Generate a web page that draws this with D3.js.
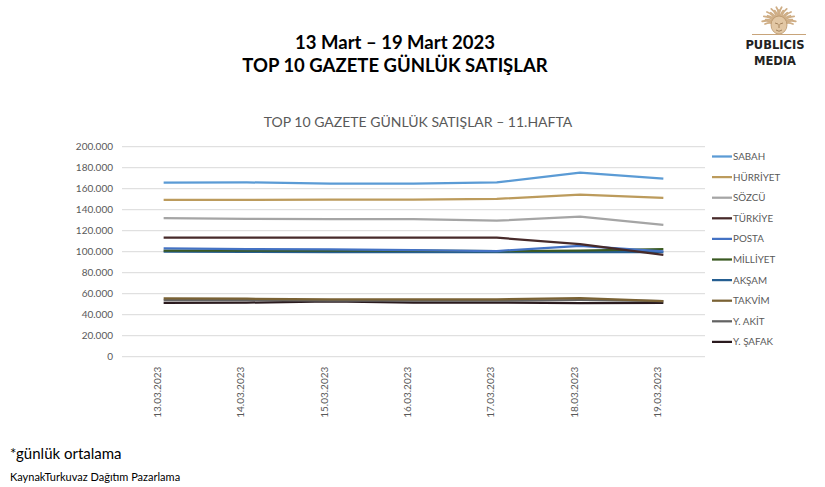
<!DOCTYPE html>
<html><head><meta charset="utf-8">
<script src="https://cdn.jsdelivr.net/npm/d3@7"></script>
<style>body{margin:0;background:#fff}svg{display:block}</style>
</head><body>
<script>
const dates = ["13.03.2023","14.03.2023","15.03.2023","16.03.2023","17.03.2023","18.03.2023","19.03.2023"];
const yTicks = [0,20000,40000,60000,80000,100000,120000,140000,160000,180000,200000];
const seriesNames = ["SABAH","HÜRRİYET","SÖZCÜ","TÜRKİYE","POSTA","MİLLİYET","AKŞAM","TAKVİM","Y. AKİT","Y. ŞAFAK"];
const seriesColors = ["#5B9BD5","#BC9B5C","#A5A5A5","#472A2A","#4472C4","#3B5A22","#255E91","#7A6234","#636363","#2A1A1E"];
const sabah    = [165700,166000,164900,164800,166000,175200,169500];
const hurriyet = [149300,149400,149500,149500,150300,154300,151200];
const sozcu    = [132000,131200,131100,131000,129500,133300,125500];
const turkiye  = [113300,113300,113300,113300,113300,107300,97000];
const posta    = [103200,102500,102200,101400,100600,105600,100200];
const milliyet = [101000,101000,101000,101000,100600,101000,102500];
const aksam    = [100000,99800,99700,99600,99600,99600,99600];
const takvim   = [55600,55200,54600,54500,54600,55800,53000];
const yakit    = [54000,53900,53500,53400,53400,54000,53000];
const ysafak   = [51200,51500,52700,51600,51500,51100,51300];
const seriesValues = [sabah,hurriyet,sozcu,turkiye,posta,milliyet,aksam,takvim,yakit,ysafak];

const W=825,H=487;
const svg=d3.select("body").append("svg").attr("width",W).attr("height",H);
const font="Lato, 'Open Sans', sans-serif";

// Titles
svg.append("text").attr("x",395).attr("y",49).attr("text-anchor","middle")
  .attr("font-family",font).attr("font-weight","bold").attr("font-size",18.5).attr("fill","#000")
  .text("13 Mart – 19 Mart 2023");
svg.append("text").attr("x",395).attr("y",72).attr("text-anchor","middle")
  .attr("font-family",font).attr("font-weight","bold").attr("font-size",18.5).attr("fill","#000")
  .text("TOP 10 GAZETE GÜNLÜK SATIŞLAR");
svg.append("text").attr("x",418).attr("y",127).attr("text-anchor","middle")
  .attr("font-family",font).attr("font-size",14).attr("fill","#595959")
  .text("TOP 10 GAZETE GÜNLÜK SATIŞLAR – 11.HAFTA");

// Scales
const x=d3.scaleBand().domain(dates).range([122,705]);
const y=d3.scaleLinear().domain([0,200000]).range([356.7,146.7]);
const fmt=v=>d3.format(",")(v).replace(/,/g,".");

// grid
svg.append("g").selectAll("line").data(yTicks).join("line")
  .attr("x1",122).attr("x2",705).attr("y1",d=>y(d)).attr("y2",d=>y(d))
  .attr("stroke","#D9D9D9").attr("stroke-width",1);

const yAxis=svg.append("g").attr("transform","translate(122,0)")
  .call(d3.axisLeft(y).tickValues(yTicks).tickFormat(fmt).tickSize(0).tickPadding(9));
yAxis.select(".domain").remove();
yAxis.selectAll("text").attr("font-family",font).attr("font-size",10).attr("fill","#595959");

const xAxis=svg.append("g").attr("transform","translate(0,356.7)")
  .call(d3.axisBottom(x).tickSize(0));
xAxis.select(".domain").remove();
xAxis.selectAll("text").attr("font-family",font).attr("font-size",10).attr("fill","#595959")
  .attr("transform","rotate(-90)").attr("text-anchor","end").attr("x",-10).attr("y",0).attr("dy","-0.25em");

// lines
const line=d3.line().x((d,i)=>x(dates[i])+x.bandwidth()/2).y(d=>y(d));
const order=[9,8,7,6,5,4,3,2,1,0];
order.forEach(k=>{
  svg.append("path").datum(seriesValues[k]).attr("d",line)
    .attr("fill","none").attr("stroke",seriesColors[k]).attr("stroke-width",2.25)
    .attr("stroke-linejoin","round");
});

// legend
const lg=svg.append("g");
seriesNames.forEach((n,i)=>{
  const yy=156.5+i*20.6;
  lg.append("line").attr("x1",712).attr("x2",732).attr("y1",yy).attr("y2",yy)
    .attr("stroke",seriesColors[i]).attr("stroke-width",2.25);
  lg.append("text").attr("x",733).attr("y",yy+3.5).attr("font-family",font).attr("font-size",9.8)
    .attr("fill","#595959").text(n);
});

// logo
const logo=svg.append("g").attr("transform","translate(779,24)");
for(let a=-180;a<=0;a+=9){
  const r=a*Math.PI/180;
  const len=(Math.round(a/9)%2?17:14);
  const bend=(a<-90?0.25:-0.25);
  logo.append("path")
    .attr("d",`M${Math.cos(r)*6},${Math.sin(r)*6} Q${Math.cos(r+bend)*len*0.65},${Math.sin(r+bend)*len*0.65} ${Math.cos(r)*len},${Math.sin(r)*len}`)
    .attr("fill","none").attr("stroke","#CFAE86").attr("stroke-width",1.8).attr("stroke-linecap","round");
}
logo.append("ellipse").attr("cx",0).attr("cy",1).attr("rx",8).attr("ry",9).attr("fill","#E2C7A4").attr("stroke","#B8946A").attr("stroke-width",0.8);
logo.append("path").attr("d","M-4,-1 L-1,0 M4,-1 L1,0 M0,0 L0,4 M-3,6 Q0,8.5 3,6").attr("stroke","#9C7A54").attr("fill","none").attr("stroke-width",0.9);
logo.append("line").attr("x1",-27).attr("x2",27).attr("y1",10.5).attr("y2",10.5).attr("stroke","#C8A47A").attr("stroke-width",1);
svg.append("text").attr("x",775).attr("y",49).attr("text-anchor","middle").attr("font-family","'DejaVu Sans', sans-serif")
  .attr("font-weight","bold").attr("font-size",11.5).attr("fill","#222").text("PUBLICIS");
svg.append("text").attr("x",775).attr("y",65).attr("text-anchor","middle").attr("font-family","'DejaVu Sans', sans-serif")
  .attr("font-weight","bold").attr("font-size",11.5).attr("fill","#222").text("MEDIA");

// footnotes
svg.append("text").attr("x",10).attr("y",459).attr("font-family",font).attr("font-size",15).attr("fill","#000").text("*günlük ortalama");
svg.append("text").attr("x",10).attr("y",481).attr("font-family",font).attr("font-size",11).attr("fill","#000").text("KaynakTurkuvaz Dağıtım Pazarlama");
</script>
</body></html>
